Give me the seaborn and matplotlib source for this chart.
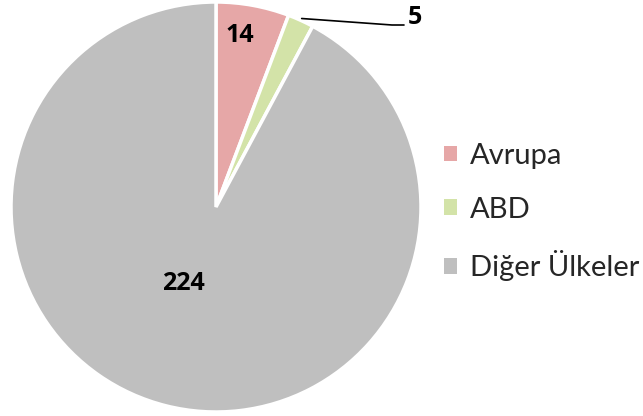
import matplotlib
matplotlib.use("Agg")
import matplotlib.pyplot as plt
import seaborn as sns
import numpy as np
from matplotlib.patches import Patch

sns.set_theme(style="white")
plt.rcParams['font.family'] = ['Lato', 'DejaVu Sans']

categories = ["Avrupa", "ABD", "Diğer Ülkeler"]
values = [14, 5, 224]
colors = ["#E6A7A7", "#D3E3A8", "#BFBFBF"]

W, H = 643, 416
fig = plt.figure(figsize=(W / 100, H / 100), dpi=100)
R = 205
cx, cy = 216, 207
ax = fig.add_axes([(cx - R) / W, (H - cy - R) / H, 2 * R / W, 2 * R / H])
wedges, _ = ax.pie(values, colors=colors, startangle=90, counterclock=False,
                   radius=1, wedgeprops=dict(edgecolor="white", linewidth=2.5))
ax.set_xlim(-1, 1)
ax.set_ylim(-1, 1)
ax.set_aspect("equal")
ax.axis("off")

def px(x, y):
    return ((x - cx) / R, (cy - y) / R)

numfont = dict(family=["Open Sans", "DejaVu Sans"], fontsize=18,
               fontweight="bold", color="black")
ax.text(*px(240, 35), str(values[0]), ha="center", va="center", **numfont)
ax.text(*px(183, 283), str(values[2]), ha="center", va="center", **numfont)

# leader line for small slice
w = wedges[1]
mid = np.deg2rad((w.theta1 + w.theta2) / 2)
start = (np.cos(mid) * 1.01, np.sin(mid) * 1.01)
p1 = px(392, 25)
p2 = px(404, 25)
ax.plot([start[0], p1[0], p2[0]], [start[1], p1[1], p2[1]],
        color="black", lw=1.2, clip_on=False)
ax.text(*px(415, 17), str(values[1]), ha="center", va="center", **numfont)

handles = [Patch(facecolor=c, edgecolor="none") for c in colors]
fig.legend(handles, categories, loc="center left",
           bbox_to_anchor=(444 / W, 1 - 212 / H), frameon=False,
           fontsize=21, handlelength=0.45, handleheight=0.45,
           handletextpad=0.45, labelspacing=0.95,
           borderpad=0, borderaxespad=0)

fig.savefig("out.png", dpi=100)
